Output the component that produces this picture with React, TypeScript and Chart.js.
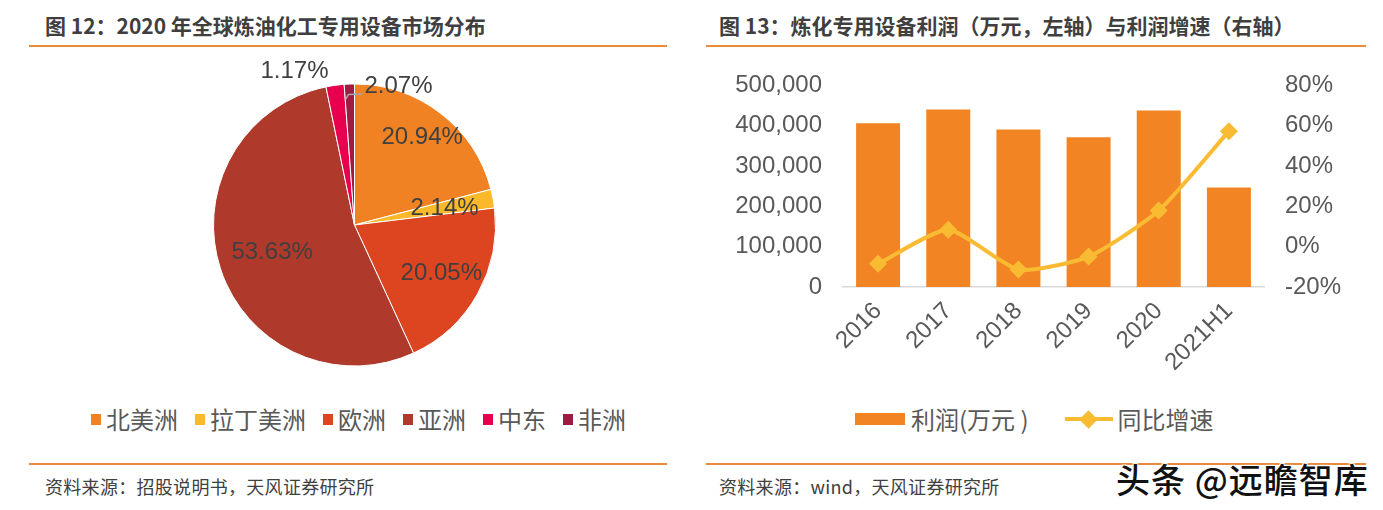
import React, { useEffect, useRef } from 'react';
import { Chart, registerables } from 'chart.js';

Chart.register(...registerables);

// ---------- data: pie (left) ----------
const regions = ['北美洲', '拉丁美洲', '欧洲', '亚洲', '中东', '非洲'];
const regionShares = [20.94, 2.14, 20.05, 53.63, 2.07, 1.17];
const regionColors = ['#F18224', '#F9B92A', '#DD4420', '#AF3A2C', '#E8004E', '#9E1C41'];

// ---------- data: bar + line (right) ----------
const years = ['2016', '2017', '2018', '2019', '2020', '2021H1'];
const profit = [406000, 440000, 390500, 371500, 438000, 247000];
const profitGrowth = [-8.5, 8.4, -11.3, -4.9, 17.9, 57.3];
const profitTickMin = 0;
const profitTickMax = 500000;
const profitTickStep = 100000;
const growthTickMin = -20;
const growthTickMax = 80;
const growthTickStep = 20;

const profitLabel = '利润(万元 )';
const growthLabel = '同比增速';
const barColor = '#F28423';
const lineColor = '#F9BB32';

const LATIN = '"Liberation Sans", Arial, sans-serif';
const CJK = '"Noto Sans CJK SC", "Noto Sans", sans-serif';

// label placement (fraction of radius) for the inner labels
const innerLabelFactor = [0.785, 0.65, 0.705, 0.615];

const pieLabelPlugin = {
  id: 'pieLabels',
  afterDatasetsDraw(chart: any) {
    const meta = chart.getDatasetMeta(0);
    const ctx = chart.ctx;
    ctx.save();
    ctx.font = '24px ' + LATIN;
    ctx.fillStyle = '#404040';
    ctx.textAlign = 'center';
    ctx.textBaseline = 'middle';
    meta.data.forEach((arc: any, i: number) => {
      const p = arc.getProps(['x', 'y', 'startAngle', 'endAngle', 'outerRadius'], true);
      const mid = (p.startAngle + p.endAngle) / 2;
      const text = regionShares[i].toFixed(2) + '%';
      if (i < innerLabelFactor.length) {
        const f = innerLabelFactor[i];
        ctx.fillText(text, p.x + Math.cos(mid) * p.outerRadius * f, p.y + Math.sin(mid) * p.outerRadius * f);
      } else if (i === 4) {
        const sx = p.x + Math.cos(p.endAngle) * p.outerRadius * 0.89;
        const sy = p.y + Math.sin(p.endAngle) * p.outerRadius * 0.89;
        ctx.save();
        ctx.strokeStyle = '#A6A6A6';
        ctx.lineWidth = 1.5;
        ctx.beginPath();
        ctx.moveTo(sx, sy);
        ctx.lineTo(p.x - 6, p.y - 130.5);
        ctx.lineTo(p.x + 8, p.y - 131);
        ctx.stroke();
        ctx.restore();
        ctx.fillText(text, p.x + 44, p.y - 139);
      } else {
        ctx.fillText(text, p.x - 60, p.y - 153.5);
      }
    });
    ctx.restore();
  },
};

function PieChart() {
  const ref = useRef<HTMLCanvasElement>(null);
  useEffect(() => {
    const chart = new Chart(ref.current!, {
      type: 'pie',
      data: {
        labels: regions,
        datasets: [
          {
            data: regionShares,
            backgroundColor: regionColors,
            borderColor: '#ffffff',
            borderWidth: 1,
          },
        ],
      },
      options: {
        animation: false,
        responsive: false,
        maintainAspectRatio: false,
        layout: { padding: { left: 13, right: 14, top: 23.5, bottom: 13.5 } },
        plugins: { legend: { display: false }, tooltip: { enabled: false } },
      },
      plugins: [pieLabelPlugin],
    } as any);
    return () => chart.destroy();
  }, []);
  return <canvas ref={ref} width={310} height={320} style={{ width: 310, height: 320, display: 'block' }} />;
}

function ComboChart() {
  const ref = useRef<HTMLCanvasElement>(null);
  useEffect(() => {
    const tickFont = { family: LATIN, size: 24 };
    const chart = new Chart(ref.current!, {
      type: 'bar',
      data: {
        labels: years,
        datasets: [
          {
            type: 'line',
            label: growthLabel,
            data: profitGrowth,
            yAxisID: 'y1',
            borderColor: lineColor,
            backgroundColor: lineColor,
            borderWidth: 4,
            pointStyle: 'rectRot',
            pointRadius: 9,
            pointBorderWidth: 0,
            pointBackgroundColor: lineColor,
            tension: 0.2,
            order: 0,
          },
          {
            type: 'bar',
            label: profitLabel,
            data: profit,
            yAxisID: 'y',
            backgroundColor: barColor,
            categoryPercentage: 1,
            barPercentage: 0.627,
            order: 1,
          },
        ],
      },
      options: {
        animation: false,
        responsive: false,
        maintainAspectRatio: false,
        layout: { padding: { top: 0, left: 0, right: 0, bottom: 0 } },
        plugins: { legend: { display: false }, tooltip: { enabled: false } },
        scales: {
          x: {
            grid: { display: false, drawTicks: false },
            border: { display: true, color: '#D9D9D9', width: 1.5 },
            ticks: { color: '#595959', font: tickFont, minRotation: 45, maxRotation: 45, padding: 10 },
            afterFit: (s: any) => {
              s.height = 103;
            },
          },
          y: {
            position: 'left',
            min: profitTickMin,
            max: profitTickMax,
            grid: { display: false, drawTicks: false },
            border: { display: false },
            ticks: {
              stepSize: profitTickStep,
              color: '#595959',
              font: tickFont,
              padding: 21,
              callback: (v: any) => Number(v).toLocaleString('en-US'),
            },
            afterFit: (s: any) => {
              s.width = 143;
            },
          },
          y1: {
            position: 'right',
            min: growthTickMin,
            max: growthTickMax,
            grid: { display: false, drawTicks: false },
            border: { display: false },
            ticks: {
              stepSize: growthTickStep,
              color: '#595959',
              font: tickFont,
              padding: 21,
              callback: (v: any) => v + '%',
            },
            afterFit: (s: any) => {
              s.width = 119;
            },
          },
        },
      },
    } as any);
    return () => chart.destroy();
  }, []);
  return <canvas ref={ref} width={683} height={340} style={{ width: 683, height: 340, display: 'block' }} />;
}

const abs = (l: number, t: number, extra: any = {}) => ({ position: 'absolute' as const, left: l, top: t, ...extra });

export default function App() {
  const titleStyle = { fontFamily: CJK, fontSize: 21, fontWeight: 700, color: '#3F3F3F', lineHeight: '26px', whiteSpace: 'nowrap' as const };
  const sourceStyle = { fontFamily: CJK, fontSize: 18, color: '#404040', lineHeight: '22px', whiteSpace: 'nowrap' as const, letterSpacing: 0.3 };
  const rule = '#E9893B';
  return (
    <div style={{ position: 'absolute', left: 0, top: 0, width: 1383, height: 510, background: '#fff', overflow: 'hidden' }}>
      {/* left panel */}
      <div style={abs(45, 12, titleStyle)}>图 12：2020 年全球炼油化工专用设备市场分布</div>
      <div style={abs(29, 45, { width: 638, height: 2, background: rule })} />
      <div style={abs(200, 60)}>
        <PieChart />
      </div>
      <div style={abs(91, 406, { display: 'flex', alignItems: 'center', height: 26, fontFamily: CJK, fontSize: 24, color: '#595959', whiteSpace: 'nowrap' })}>
        {regions.map((r, i) => (
          <div key={r} style={{ display: 'flex', alignItems: 'center', marginRight: i < regions.length - 1 ? 17 : 0 }}>
            <span style={{ display: 'inline-block', width: 10, height: 11, background: regionColors[i], marginRight: 5 }} />
            <span style={{ lineHeight: '26px' }}>{r}</span>
          </div>
        ))}
      </div>
      <div style={abs(29, 463, { width: 638, height: 2, background: rule })} />
      <div style={abs(45, 475, sourceStyle)}>资料来源：招股说明书，天风证券研究所</div>

      {/* right panel */}
      <div style={abs(719, 12, titleStyle)}>图 13：炼化专用设备利润（万元，左轴）与利润增速（右轴）</div>
      <div style={abs(706, 45, { width: 660, height: 2, background: rule })} />
      <div style={abs(700, 50)}>
        <ComboChart />
      </div>
      <div style={abs(855, 406, { display: 'flex', alignItems: 'center', height: 26, fontFamily: CJK, fontSize: 24, color: '#595959', whiteSpace: 'nowrap' })}>
        <span style={{ display: 'inline-block', width: 50, height: 12, background: barColor, marginRight: 6 }} />
        <span style={{ lineHeight: '26px' }}>{profitLabel}</span>
        <span style={{ position: 'relative', display: 'inline-block', width: 48, height: 18, marginLeft: 36, marginRight: 5 }}>
          <span style={{ position: 'absolute', left: 0, top: 7, width: 48, height: 4, background: lineColor }} />
          <span style={{ position: 'absolute', left: 17.5, top: 2.5, width: 13, height: 13, background: lineColor, transform: 'rotate(45deg)' }} />
        </span>
        <span style={{ lineHeight: '26px' }}>{growthLabel}</span>
      </div>
      <div style={abs(706, 463, { width: 660, height: 2, background: rule })} />
      <div style={abs(719, 475, sourceStyle)}>资料来源：wind，天风证券研究所</div>

      {/* watermark */}
      <div
        style={abs(1116, 458, {
          fontFamily: CJK,
          fontSize: 34,
          fontWeight: 500,
          color: '#111',
          lineHeight: '42px',
          letterSpacing: 1,
          whiteSpace: 'nowrap',
          textShadow: '1px 1px 1px #fff, -1px -1px 1px #fff, 1px -1px 1px #fff, -1px 1px 1px #fff',
        })}
      >
        头条 @远瞻智库
      </div>
    </div>
  );
}
